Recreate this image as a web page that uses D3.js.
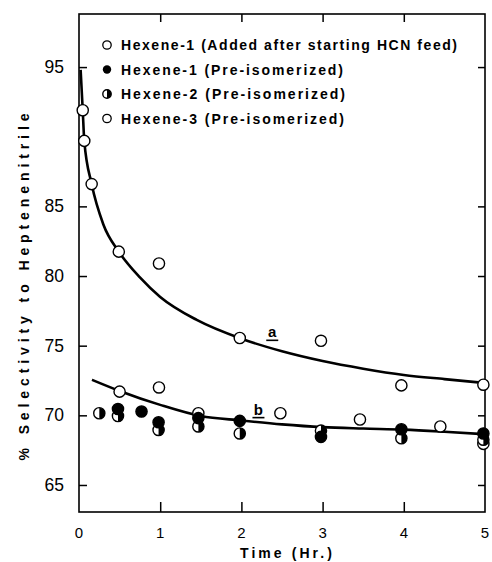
<!DOCTYPE html>
<html><head><meta charset="utf-8">
<script src="https://cdn.jsdelivr.net/npm/d3@7"></script>
<style>body{margin:0;background:#fff}svg{display:block}text{fill:#000}</style>
</head><body><div id="chart"></div>
<script>
// ---- data ----
const xTicks = [0, 1, 2, 3, 4, 5];
const yTicks = [65, 70, 75, 80, 85, 95];
const legendLabels = [
  "Hexene-1 (Added after starting HCN feed)",
  "Hexene-1 (Pre-isomerized)",
  "Hexene-2 (Pre-isomerized)",
  "Hexene-3 (Pre-isomerized)"
];
// Hexene-1 added after starting HCN feed (open circles)
const addedT = [0.046, 0.065, 0.156, 0.49, 0.985, 1.98, 2.98, 3.97, 4.98];
const addedV = [91.9, 89.7, 86.6, 81.75, 80.9, 75.55, 75.35, 72.15, 72.2];
// Hexene-1 pre-isomerized (filled)
const hex1T = [0.48, 0.77, 0.98, 1.47, 1.98, 2.98, 3.97, 4.98];
const hex1V = [70.45, 70.27, 69.5, 69.8, 69.6, 68.45, 69.0, 68.7];
// Hexene-2 pre-isomerized (half filled)
const hex2T = [0.25, 0.48, 0.98, 1.47, 1.98, 2.98, 3.97, 4.98];
const hex2V = [70.15, 69.95, 68.95, 69.2, 68.7, 68.9, 68.35, 68.25];
// Hexene-3 pre-isomerized (open circles)
const hex3T = [0.5, 0.985, 1.47, 2.48, 3.46, 4.45, 4.98];
const hex3V = [71.7, 72.0, 70.15, 70.15, 69.7, 69.2, 67.95];
// smooth curves a and b
const curveAT = [0.02, 0.046, 0.065, 0.156, 0.3, 0.49, 0.75, 1.0, 1.45, 2.0, 2.5, 3.0, 3.5, 4.0, 4.5, 4.95];
const curveAV = [94.8, 91.9, 89.7, 86.6, 83.7, 81.75, 79.9, 78.5, 76.85, 75.5, 74.6, 73.9, 73.35, 72.9, 72.6, 72.35];
const curveBT = [0.16, 0.5, 1.0, 1.5, 2.0, 2.5, 3.0, 3.5, 4.0, 4.5, 4.98];
const curveBV = [72.55, 71.75, 70.75, 69.95, 69.63, 69.35, 69.15, 69.05, 68.97, 68.82, 68.65];

// ---- layout ----
const W = 492, H = 562;
const svg = d3.select("#chart").append("svg").attr("width", W).attr("height", H);
const x = d3.scaleLinear().domain([0, 5]).range([79, 485]);
const y = d3.scaleLinear().domain([63.06, 98.81]).range([512, 14]);
const FONT = "'Liberation Sans', Arial, sans-serif";

// frame
svg.append("rect").attr("x", x(0)).attr("y", y(98.81)).attr("width", x(5) - x(0))
  .attr("height", y(63.06) - y(98.81)).attr("fill", "none").attr("stroke", "#000").attr("stroke-width", 1.6);

// axes with inward ticks
const inner = [1, 2, 3, 4];
svg.append("g").attr("transform", `translate(0,${y(63.06)})`)
  .call(d3.axisTop(x).tickValues(inner).tickSize(10).tickFormat(""))
  .call(g => { g.select(".domain").remove(); g.selectAll("line").attr("stroke-width", 1.5); });
svg.append("g").attr("transform", `translate(0,${y(98.81)})`)
  .call(d3.axisBottom(x).tickValues(inner).tickSize(8).tickFormat(""))
  .call(g => { g.select(".domain").remove(); g.selectAll("line").attr("stroke-width", 1.5); });
svg.append("g").attr("transform", `translate(${x(0)},0)`)
  .call(d3.axisRight(y).tickValues(yTicks).tickSize(8).tickFormat(""))
  .call(g => { g.select(".domain").remove(); g.selectAll("line").attr("stroke-width", 1.5); });
svg.append("g").attr("transform", `translate(${x(5)},0)`)
  .call(d3.axisLeft(y).tickValues(yTicks).tickSize(7).tickFormat(""))
  .call(g => { g.select(".domain").remove(); g.selectAll("line").attr("stroke-width", 1.5); });

// tick labels
svg.append("g").selectAll("text").data(xTicks).join("text")
  .attr("x", d => x(d)).attr("y", 538).attr("text-anchor", "middle")
  .attr("font-family", FONT).attr("font-size", 15).text(d => d);
svg.append("g").selectAll("text").data(yTicks).join("text")
  .attr("x", 64).attr("y", d => y(d) + 6).attr("text-anchor", "end")
  .attr("font-family", FONT).attr("font-size", 17.5).text(d => d);

// axis titles
svg.append("text").attr("x", 286).attr("y", 558).attr("text-anchor", "middle")
  .attr("font-family", FONT).attr("font-size", 14).attr("font-weight", "bold")
  .attr("textLength", 92).attr("lengthAdjust", "spacing").text("Time (Hr.)");
svg.append("text").attr("transform", "translate(29,287) rotate(-90)").attr("text-anchor", "middle")
  .attr("font-family", FONT).attr("font-size", 14).attr("font-weight", "bold")
  .attr("textLength", 347).attr("lengthAdjust", "spacing").text("% Selectivity to Heptenenitrile");

// curves
const line = d3.line().x(d => x(d[0])).y(d => y(d[1])).curve(d3.curveMonotoneX);
svg.append("path").datum(d3.zip(curveAT, curveAV)).attr("d", line)
  .attr("fill", "none").attr("stroke", "#000").attr("stroke-width", 2.6);
svg.append("path").datum(d3.zip(curveBT, curveBV)).attr("d", line)
  .attr("fill", "none").attr("stroke", "#000").attr("stroke-width", 2.6);

// curve labels
function curveLabel(t, v, s) {
  svg.append("text").attr("x", x(t)).attr("y", y(v)).attr("text-anchor", "middle")
    .attr("font-family", FONT).attr("font-size", 15).attr("font-weight", "bold").text(s);
  svg.append("line").attr("x1", x(t) - 6).attr("x2", x(t) + 6).attr("y1", y(v) + 3).attr("y2", y(v) + 3)
    .attr("stroke", "#000").attr("stroke-width", 1.6);
}
curveLabel(2.38, 75.6, "a");
curveLabel(2.21, 70.05, "b");

// markers
const R = 5.6;
function openPts(T, V) {
  svg.append("g").selectAll("circle").data(d3.zip(T, V)).join("circle")
    .attr("cx", d => x(d[0])).attr("cy", d => y(d[1])).attr("r", R)
    .attr("fill", "#fff").attr("stroke", "#000").attr("stroke-width", 1.4);
}
function filledPts(T, V) {
  svg.append("g").selectAll("circle").data(d3.zip(T, V)).join("circle")
    .attr("cx", d => x(d[0])).attr("cy", d => y(d[1])).attr("r", R)
    .attr("fill", "#000").attr("stroke", "#000").attr("stroke-width", 1.4);
}
function halfMarker(g, cx, cy, r) {
  g.append("circle").attr("cx", cx).attr("cy", cy).attr("r", r)
    .attr("fill", "#fff").attr("stroke", "#000").attr("stroke-width", 1.4);
  g.append("path").attr("d", `M${cx},${cy - r} A${r},${r} 0 0,1 ${cx},${cy + r} Z`).attr("fill", "#000");
}
function halfPts(T, V) {
  const g = svg.append("g");
  d3.zip(T, V).forEach(d => halfMarker(g, x(d[0]), y(d[1]), R));
}
openPts(hex3T, hex3V);
halfPts(hex2T, hex2V);
filledPts(hex1T, hex1V);
openPts(addedT, addedV);

// legend
const legY = [45, 69.5, 94, 118.5];
const legW = [336, 222, 224, 223];
const lg = svg.append("g");
legendLabels.forEach((s, i) => {
  const cy = legY[i], cx = 107, r = 4.2;
  if (i === 0 || i === 3) lg.append("circle").attr("cx", cx).attr("cy", cy).attr("r", r)
    .attr("fill", "#fff").attr("stroke", "#000").attr("stroke-width", 1.3);
  else if (i === 1) lg.append("circle").attr("cx", cx).attr("cy", cy).attr("r", r).attr("fill", "#000");
  else halfMarker(lg, cx, cy, r);
  lg.append("text").attr("x", 121).attr("y", cy + 5).attr("font-family", FONT)
    .attr("font-size", 14).attr("font-weight", "bold")
    .attr("textLength", legW[i]).attr("lengthAdjust", "spacing").text(s);
});
</script>
</body></html>
